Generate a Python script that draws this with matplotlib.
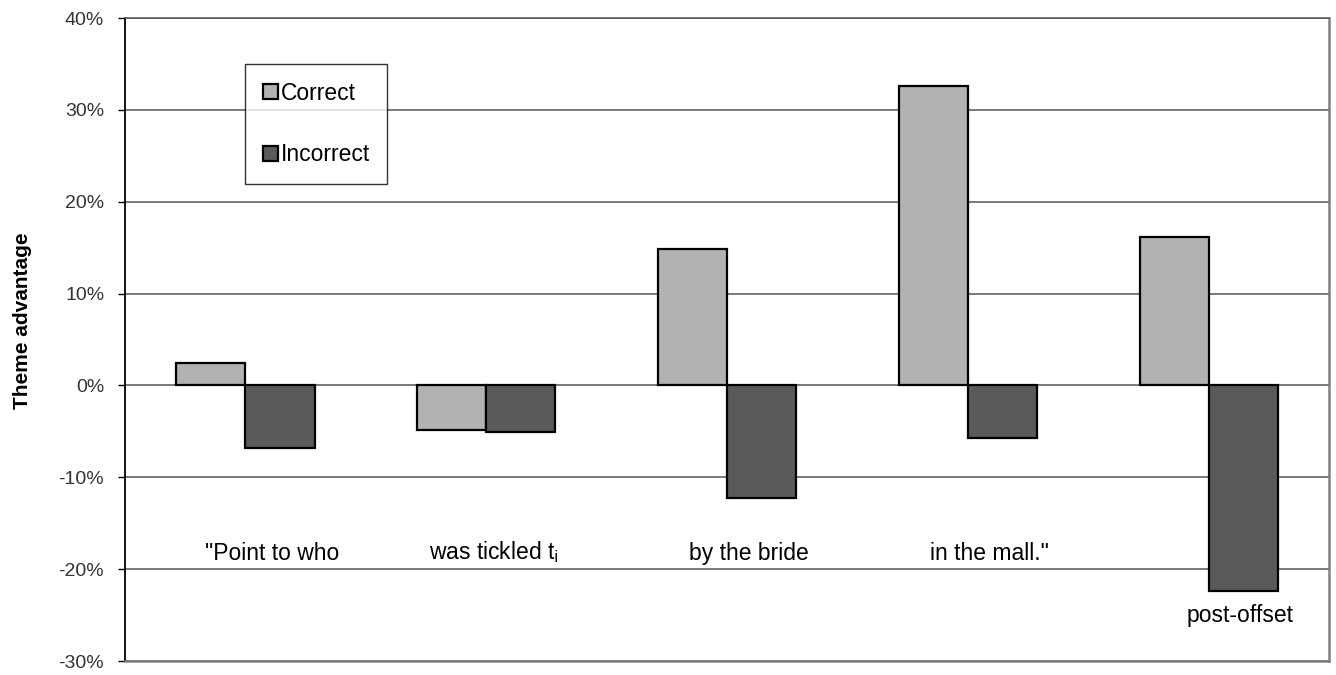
import numpy as np
import matplotlib.pyplot as plt
from matplotlib.ticker import PercentFormatter

plt.rcParams['font.family'] = ['Liberation Sans', 'DejaVu Sans']
plt.rcParams['axes.unicode_minus'] = False

# theme advantage per sentence region (percent)
regions = ['"Point to who', 'was tickled t$_{\\rm i}$', 'by the bride', 'in the mall."', 'post-offset']
correct = [2.4, -4.9, 14.9, 32.6, 16.2]
incorrect = [-6.8, -5.1, -12.2, -5.7, -22.4]

# where each region's label sits (x in category units, y in percent)
label_x = [0.11, 1.03, 2.09, 3.09, 4.13]
label_y = [-19.6, -19.6, -19.6, -19.6, -26.3]

fig = plt.figure(figsize=(13.36, 6.75), dpi=100)
ax = fig.add_axes([0.0936, 0.0207, 0.9012, 0.9526])

x = np.arange(len(regions))
w = 0.287
ax.bar(x - w / 2, correct, w, color='#b2b2b2', edgecolor='black', linewidth=1.6,
       label='Correct', zorder=3)
ax.bar(x + w / 2, incorrect, w, color='#5a5a5a', edgecolor='black', linewidth=1.6,
       label='Incorrect', zorder=3)

for lx, ly, txt in zip(label_x, label_y, regions):
    ax.text(lx, ly, txt, ha='center', va='bottom', fontsize=16.5, color='black')

ax.set_xlim(-0.5, 4.5)
ax.set_ylim(-30, 40)
ax.set_yticks(np.arange(-30, 41, 10))
ax.yaxis.set_major_formatter(PercentFormatter(decimals=0))
ax.set_xticks([])
ax.tick_params(axis='y', direction='out', length=5, width=1, labelsize=14,
               labelcolor='#333333', pad=10)
ax.yaxis.grid(True, color='#555555', linewidth=1.1, zorder=0)
ax.set_axisbelow(True)

ax.spines['left'].set_color('black')
ax.spines['left'].set_linewidth(1.3)
for side in ['right', 'bottom']:
    ax.spines[side].set_color('#808080')
    ax.spines[side].set_linewidth(1.8)
ax.spines['top'].set_color('#555555')
ax.spines['top'].set_linewidth(1.1)

ax.set_ylabel('Theme advantage', fontsize=15, fontweight='bold')
ax.yaxis.set_label_coords(-0.077, 0.529)

leg = ax.legend(loc='upper left', bbox_to_anchor=(0.1, 0.928), fontsize=16.5,
                frameon=True, fancybox=False, edgecolor='black', labelspacing=1.7,
                handlelength=0.65, handleheight=0.65, handletextpad=0.15,
                borderpad=0.75, borderaxespad=0)
leg.get_frame().set_linewidth(1.0)

plt.savefig('out.png', dpi=100)
